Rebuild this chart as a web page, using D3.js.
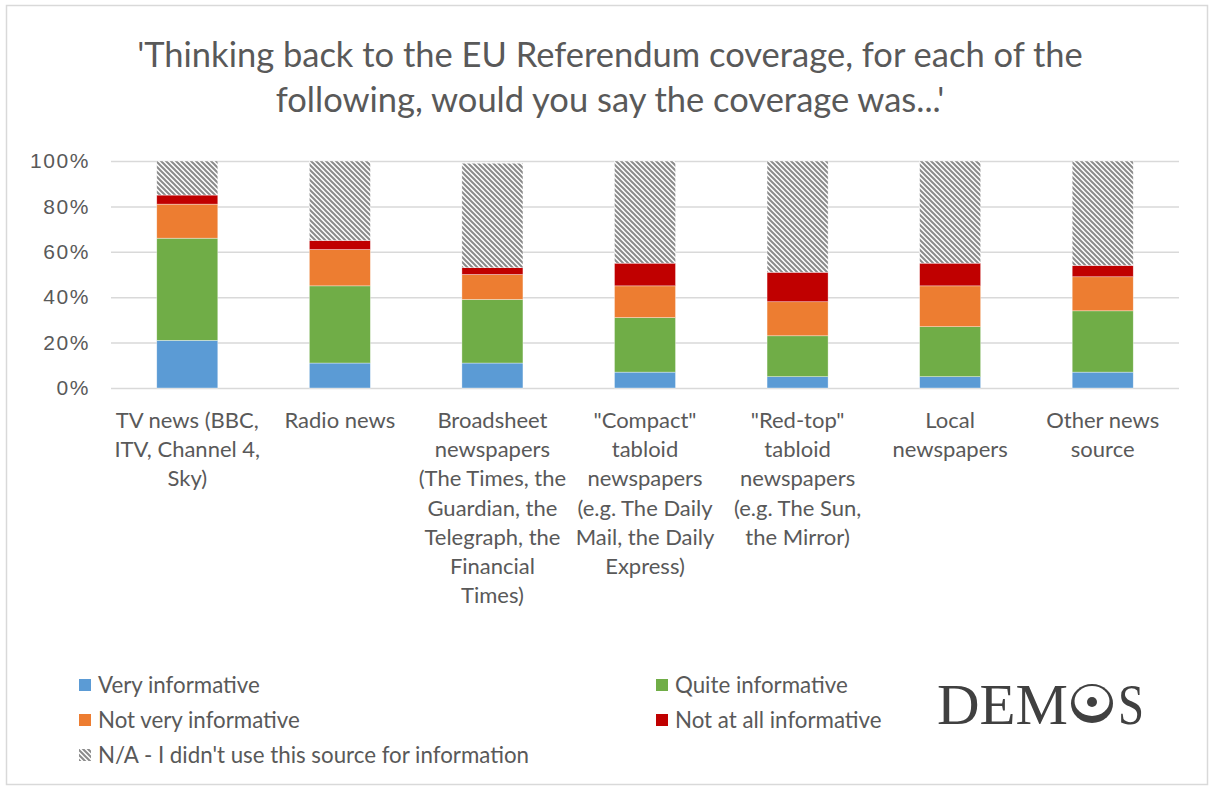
<!DOCTYPE html>
<html>
<head>
<meta charset="utf-8">
<script src="https://cdn.jsdelivr.net/npm/d3@7"></script>
<style>
  body { margin: 0; background: #fff; }
  svg { display: block; }
</style>
</head>
<body>
<svg id="chart"></svg>
<script>
// categories (label lines as shown under each bar)
var categories = [
  ["TV news (BBC,", "ITV, Channel 4,", "Sky)"],
  ["Radio news"],
  ["Broadsheet", "newspapers", "(The Times, the", "Guardian, the", "Telegraph, the", "Financial", "Times)"],
  ["\"Compact\"", "tabloid", "newspapers", "(e.g. The Daily", "Mail, the Daily", "Express)"],
  ["\"Red-top\"", "tabloid", "newspapers", "(e.g. The Sun,", "the Mirror)"],
  ["Local", "newspapers"],
  ["Other news", "source"]
]

var seriesNames = ["Very informative", "Quite informative", "Not very informative",
                   "Not at all informative", "N/A - I didn't use this source for information"]

// percent values, one per category
var veryInformative    = [21, 11, 11,  7,  5,  5,  7]
var quiteInformative   = [45, 34, 28, 24, 18, 22, 27]
var notVeryInformative = [15, 16, 11, 14, 15, 18, 15]
var notAtAll           = [ 4,  4,  3, 10, 13, 10,  5]
var notUsed            = [15, 35, 46, 45, 49, 45, 46]

var yTicks = [0, 0.2, 0.4, 0.6, 0.8, 1]

var colors = ["#5b9bd5", "#70ad47", "#ed7d31", "#c00000", "url(#hatch)"]

var W = 1210, H = 787
var plot = { left: 111, right: 1179, top: 161, bottom: 388 }
var textColor = "#595959"
var catFont = "Lato, 'Open Sans', sans-serif"

var svg = d3.select("#chart").attr("width", W).attr("height", H)

// hatch pattern for the N/A series
var defs = svg.append("defs")
var pat = defs.append("pattern")
  .attr("id", "hatch")
  .attr("patternUnits", "userSpaceOnUse")
  .attr("width", 5).attr("height", 5)
pat.append("rect").attr("width", 5).attr("height", 5).attr("fill", "#fff")
pat.append("path")
  .attr("d", "M-1,-1 L6,6 M-1,4 L1,6 M4,-1 L6,1")
  .attr("stroke", "#8a8a8a").attr("stroke-width", 2)

// border around the chart area
svg.append("rect")
  .attr("x", 6.5).attr("y", 5.5)
  .attr("width", 1201).attr("height", 779)
  .attr("fill", "none").attr("stroke", "#d9d9d9").attr("stroke-width", 1.5)

// title
var title = svg.append("text")
  .attr("text-anchor", "middle")
  .attr("fill", textColor)
  .style("font-family", catFont)
  .style("font-size", "34.5px")
title.append("tspan").attr("x", 610).attr("y", 67)
  .text("'Thinking back to the EU Referendum coverage, for each of the")
title.append("tspan").attr("x", 610).attr("y", 112)
  .text("following, would you say the coverage was...'")

// build table for stacking
var table = categories.map(function(c, i) {
  return {
    idx: i,
    s0: veryInformative[i] / 100,
    s1: quiteInformative[i] / 100,
    s2: notVeryInformative[i] / 100,
    s3: notAtAll[i] / 100,
    s4: notUsed[i] / 100
  }
})
var stack = d3.stack().keys(["s0", "s1", "s2", "s3", "s4"])
var layers = stack(table)

var xScale = d3.scaleBand()
  .domain(d3.range(categories.length))
  .range([plot.left, plot.right])
  .padding(0)

var yScale = d3.scaleLinear()
  .domain([0, 1])
  .range([plot.bottom, plot.top])

// y axis with gridlines
var yAxis = svg.append("g")
  .attr("transform", "translate(" + plot.left + ",0)")
  .call(d3.axisLeft(yScale)
    .tickValues(yTicks)
    .tickFormat(d3.format(".0%"))
    .tickSize(-(plot.right - plot.left))
    .tickPadding(21))
yAxis.select(".domain").remove()
yAxis.selectAll(".tick line")
  .attr("stroke", "#d9d9d9").attr("stroke-width", 1.5)
yAxis.selectAll(".tick text")
  .attr("fill", textColor)
  .style("font-family", "'Liberation Sans', Arial, sans-serif")
  .style("font-size", "21px")
  .style("letter-spacing", "1.6px")

// bars
var barW = xScale.bandwidth() * 0.4
svg.append("g").selectAll("g")
  .data(layers)
  .enter()
  .append("g")
  .attr("fill", function(d, i) { return colors[i] })
  .selectAll("rect")
  .data(function(d) { return d })
  .enter()
  .append("rect")
  .attr("x", function(d) { return xScale(d.data.idx) + (xScale.bandwidth() - barW) / 2 })
  .attr("y", function(d) { return yScale(d[1]) })
  .attr("width", barW)
  .attr("height", function(d) { return yScale(d[0]) - yScale(d[1]) })
  .attr("stroke", "#fff").attr("stroke-width", 0.6).attr("stroke-opacity", 0.6)

// x axis labels (multi-line)
var xAxis = svg.append("g")
  .attr("transform", "translate(0," + plot.bottom + ")")
  .call(d3.axisBottom(xScale).tickSize(0).tickFormat(""))
xAxis.select(".domain").remove()
xAxis.selectAll(".tick").each(function(i) {
  var t = d3.select(this).select("text")
    .attr("fill", textColor)
    .attr("y", 0)
    .attr("dy", null)
    .style("font-family", catFont)
    .style("font-size", "22px")
  categories[i].forEach(function(line, k) {
    t.append("tspan").attr("x", 0).attr("y", 40 + k * 29.2).text(line)
  })
})

// legend
var legendItems = [
  { name: seriesNames[0], color: colors[0], x: 79,  y: 685 },
  { name: seriesNames[1], color: colors[1], x: 656, y: 685 },
  { name: seriesNames[2], color: colors[2], x: 79,  y: 720 },
  { name: seriesNames[3], color: colors[3], x: 656, y: 720 },
  { name: seriesNames[4], color: colors[4], x: 79,  y: 755 }
]
var legend = svg.append("g").selectAll("g")
  .data(legendItems)
  .enter()
  .append("g")
  .attr("transform", function(d) { return "translate(" + d.x + "," + d.y + ")" })
legend.append("rect")
  .attr("x", 0).attr("y", -6)
  .attr("width", 12).attr("height", 12)
  .attr("fill", function(d) { return d.color })
legend.append("text")
  .attr("x", 19).attr("y", 8)
  .attr("fill", textColor)
  .style("font-family", catFont)
  .style("font-size", "22.3px")
  .text(function(d) { return d.name })

// DEMOS logo
var logo = svg.append("g").attr("fill", "#404040")
logo.append("text")
  .attr("x", 937).attr("y", 724)
  .attr("textLength", 131).attr("lengthAdjust", "spacingAndGlyphs")
  .style("font-family", "'Liberation Serif', 'DejaVu Serif', serif")
  .style("font-size", "56px")
  .text("DEM")
logo.append("text")
  .attr("x", 1118).attr("y", 724)
  .attr("textLength", 26).attr("lengthAdjust", "spacingAndGlyphs")
  .style("font-family", "'Liberation Serif', 'DejaVu Serif', serif")
  .style("font-size", "56px")
  .text("S")
logo.append("ellipse").attr("cx", 1092).attr("cy", 703.5).attr("rx", 21).attr("ry", 19.5)
logo.append("ellipse").attr("cx", 1092).attr("cy", 701).attr("rx", 17.5).attr("ry", 15)
  .attr("fill", "#fff")
logo.append("circle").attr("cx", 1092).attr("cy", 702).attr("r", 5)
</script>
</body>
</html>
